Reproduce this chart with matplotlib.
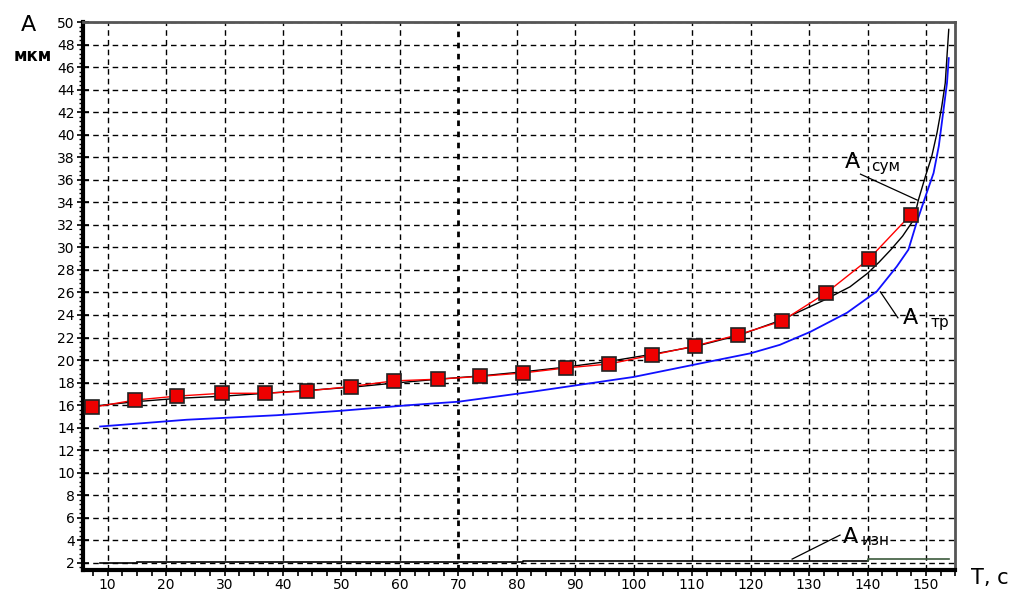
import matplotlib
matplotlib.use("Agg")
import matplotlib.pyplot as plt
from matplotlib.ticker import MultipleLocator

# Measured points (red squares)
marker_t = [7.4, 14.7, 21.9, 29.6, 36.9, 44.1, 51.6, 58.9, 66.5, 73.7,
            81.0, 88.4, 95.8, 103.2, 110.5, 117.9, 125.3, 132.9, 140.2, 147.4]
marker_a = [15.8, 16.45, 16.8, 17.05, 17.05, 17.25, 17.65, 18.15, 18.3, 18.55,
            18.85, 19.3, 19.65, 20.45, 21.25, 22.25, 23.45, 25.95, 28.95, 32.9]

# A sum (black curve)
sum_t = [7.4, 14.7, 22.0, 30.0, 37.0, 44.0, 52.0, 59.0, 66.5, 74.0, 81.0, 88.0,
         96.0, 103.0, 110.5, 118.0, 125.0, 132.5, 137.0, 140.0, 142.0, 144.0, 146.0,
         147.9, 148.7, 149.9, 151.0, 151.9, 152.7, 153.3, 153.6, 153.9]
sum_a = [15.9, 16.3, 16.6, 16.8, 17.05, 17.3, 17.6, 17.95, 18.3, 18.6, 18.95, 19.35,
         19.9, 20.5, 21.2, 22.2, 23.5, 25.3, 26.5, 27.7, 28.7, 29.8, 31.0,
         32.45, 34.2, 36.3, 38.1, 40.2, 42.5, 44.6, 47.0, 49.35]

# A tr (blue curve)
tr_t = [8.7, 23.5, 38.9, 50.0, 61.7, 70.0, 82.8, 100.0, 111.4, 120.0, 125.0, 130.2,
        136.5, 141.6, 145.0, 147.0, 148.4, 150.1, 151.3, 152.2, 153.0, 153.6, 153.9]
tr_a = [14.1, 14.7, 15.1, 15.5, 16.0, 16.3, 17.2, 18.5, 19.7, 20.6, 21.35, 22.5,
        24.2, 26.1, 28.3, 29.8, 32.2, 34.8, 36.6, 39.0, 42.2, 44.6, 46.8]

# A izn (step line near 2)
izn_t = [8.7, 15.0, 15.0, 81.0, 81.0, 140.0, 140.0, 153.9]
izn_a = [1.95, 1.95, 2.03, 2.03, 2.12, 2.12, 2.35, 2.35]

x_ticks = list(range(10, 151, 10))
y_ticks = list(range(2, 51, 2))

fig = plt.figure(figsize=(10.14, 5.97), dpi=100)
ax = fig.add_axes([0.082, 0.045, 0.86, 0.918])

ax.set_xlim(5.8, 155.0)
ax.set_ylim(1.35, 50.0)

# Grid
for xv in x_ticks:
    lw = 2.0 if xv == 70 else 1.0
    ls = (0, (2, 2)) if xv == 70 else (0, (4, 3))
    ax.axvline(xv, color="black", lw=lw, ls=ls, zorder=1)
for yv in y_ticks:
    ax.axhline(yv, color="black", lw=1.0, ls=(0, (4, 3)), zorder=1)

ax.plot(izn_t[:2], izn_a[:2], color="black", lw=1.2, zorder=3)
ax.plot(izn_t[2:6], izn_a[2:6], color="black", lw=1.2, zorder=3)
ax.plot(izn_t[5:], izn_a[5:], color="#3c5a3c", lw=1.2, zorder=3)

ax.plot(tr_t, tr_a, color="#1010ff", lw=1.3, zorder=3)
ax.plot(sum_t, sum_a, color="black", lw=1.0, zorder=4)
ax.plot(marker_t, marker_a, color="red", lw=1.0, marker="s", markersize=10,
        markerfacecolor="#ee0000", markeredgecolor="#222222", markeredgewidth=1.2,
        zorder=5)

# Spines
for s in ("left", "bottom"):
    ax.spines[s].set_linewidth(3)
    ax.spines[s].set_color("black")
for s in ("top", "right"):
    ax.spines[s].set_linewidth(2)
    ax.spines[s].set_color("#555555")

ax.set_xticks(x_ticks)
ax.set_yticks(y_ticks)
ax.xaxis.set_minor_locator(MultipleLocator(2.5))
ax.yaxis.set_minor_locator(MultipleLocator(0.4))
ax.tick_params(axis="x", which="major", direction="out", length=4, width=1.2,
               labelsize=10, pad=2)
ax.tick_params(axis="x", which="minor", direction="out", length=4, width=1.2)
ax.tick_params(axis="y", which="major", direction="inout", length=8, width=1.2,
               labelsize=10, pad=2)
ax.tick_params(axis="y", which="minor", direction="out", length=3, width=1)

# Axis labels
fig.text(28 / 1014, 1 - 25 / 597, "A", fontsize=16, ha="center", va="center")
fig.text(33 / 1014, 1 - 56 / 597, "мкм", fontsize=12, fontweight="bold",
         ha="center", va="center")
fig.text(990 / 1014, 1 - 578 / 597, "T, c", fontsize=15, ha="center", va="center")

# Annotations
def label(ax_, ay, sx, sy, sub, lx0, ly0, lx1, ly1):
    ax.plot([lx0, lx1], [ly0, ly1], color="black", lw=0.9, zorder=6)
    ax.text(ax_, ay, "A", fontsize=16, ha="left", va="center", zorder=7)
    ax.text(sx, sy, sub, fontsize=11, ha="left", va="center", zorder=7)

label(136.2, 37.6, 140.7, 37.2, "сум", 138.8, 36.5, 148.5, 34.2)
label(146.1, 23.75, 150.7, 23.3, "тр", 142.2, 26.05, 145.2, 23.75)
label(135.8, 4.3, 139.0, 4.0, "изн", 127.1, 2.33, 135.3, 4.46)

fig.savefig("out.png", dpi=100)
